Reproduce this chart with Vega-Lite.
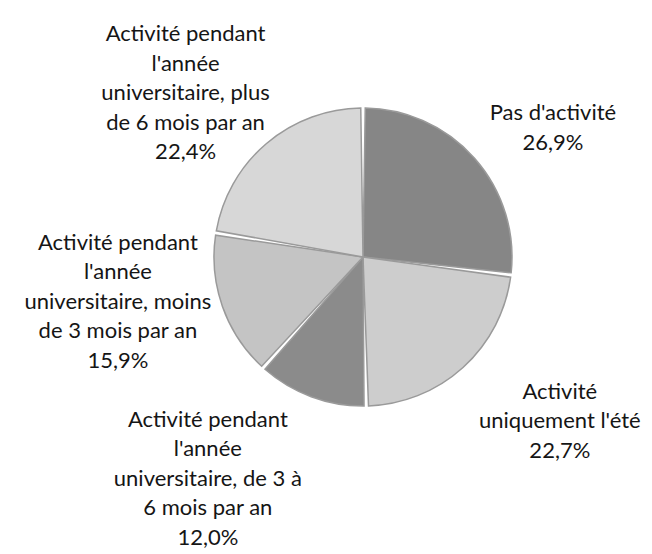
{
  "$schema": "https://vega.github.io/schema/vega-lite/v6.json",
  "width": 578,
  "height": 514,
  "autosize": {"type": "none"},
  "padding": {"left": 74, "top": 0, "right": 0, "bottom": 40},
  "background": "white",
  "config": {"view": {"stroke": null}, "text": {"font": "Lato", "fontSize": 22, "lineHeight": 29.5, "lineBreak": "\n", "color": "#151515", "align": "center", "baseline": "middle"}},
  "data": {"values": [
    {"ordre": 1, "categorie": "Pas d'activité", "libelle": "Pas d'activité", "part": 26.9},
    {"ordre": 2, "categorie": "Activité uniquement l'été", "libelle": "Activité\nuniquement l'été", "part": 22.7},
    {"ordre": 3, "categorie": "De 3 à 6 mois", "libelle": "Activité pendant\nl'année\nuniversitaire, de 3 à\n6 mois par an", "part": 12.0},
    {"ordre": 4, "categorie": "Moins de 3 mois", "libelle": "Activité pendant\nl'année\nuniversitaire, moins\nde 3 mois par an", "part": 15.9},
    {"ordre": 5, "categorie": "Plus de 6 mois", "libelle": "Activité pendant\nl'année\nuniversitaire, plus\nde 6 mois par an", "part": 22.4}
  ]},
  "transform": [
    {"stack": "part", "groupby": [], "sort": [{"field": "ordre", "order": "ascending"}], "as": ["v0", "v1"]},
    {"calculate": "(datum.v0 + datum.v1) / 2", "as": "mid"},
    {"calculate": "datum.libelle + '\\n' + replace(format(datum.part, '.1f'), '.', ',') + '%'", "as": "txt"}
  ],
  "layer": [
    {
      "mark": {"type": "arc", "outerRadius": 149, "padAngle": 0.03, "stroke": "#9a9a9a", "strokeWidth": 1.5},
      "encoding": {
        "theta": {"field": "v0", "type": "quantitative", "scale": {"domain": [0, 99.9]}},
        "theta2": {"field": "v1"},
        "color": {"field": "categorie", "type": "nominal", "legend": null,
          "scale": {"domain": ["Pas d'activité", "Activité uniquement l'été", "De 3 à 6 mois", "Moins de 3 mois", "Plus de 6 mois"],
                    "range": ["#868686", "#cdcdcd", "#8b8b8b", "#c4c4c4", "#d7d7d7"]}}
      }
    },
    {
      "transform": [{"filter": "datum.ordre == 1"}],
      "mark": {"type": "text", "radius": 227, "dx": 20, "dy": 7},
      "encoding": {"theta": {"field": "mid", "type": "quantitative", "stack": null}, "text": {"field": "txt"}}
    },
    {
      "transform": [{"filter": "datum.ordre == 2"}],
      "mark": {"type": "text", "radius": 253, "dx": 27, "dy": -53},
      "encoding": {"theta": {"field": "mid", "type": "quantitative", "stack": null}, "text": {"field": "txt"}}
    },
    {
      "transform": [{"filter": "datum.ordre == 3"}],
      "mark": {"type": "text", "radius": 262, "dx": -64, "dy": -83},
      "encoding": {"theta": {"field": "mid", "type": "quantitative", "stack": null}, "text": {"field": "txt"}}
    },
    {
      "transform": [{"filter": "datum.ordre == 4"}],
      "mark": {"type": "text", "radius": 246, "dx": -13, "dy": -96},
      "encoding": {"theta": {"field": "mid", "type": "quantitative", "stack": null}, "text": {"field": "txt"}}
    },
    {
      "transform": [{"filter": "datum.ordre == 5"}],
      "mark": {"type": "text", "radius": 240, "dx": -22, "dy": -40},
      "encoding": {"theta": {"field": "mid", "type": "quantitative", "stack": null}, "text": {"field": "txt"}}
    }
  ]
}
